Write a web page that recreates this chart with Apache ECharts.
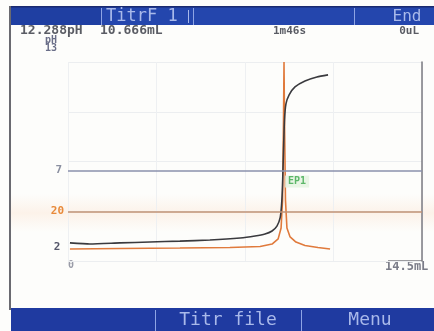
<!DOCTYPE html>
<html>
<head>
<meta charset="utf-8">
<style>
  html, body { margin: 0; padding: 0; background: #fdfdfb; }
  #chart { width: 434px; height: 331px; }
</style>
<script src="https://cdn.jsdelivr.net/npm/echarts@6/dist/echarts.min.js"></script>
</head>
<body>
<div id="chart"></div>
<script>
// Titration curve: volume (mL) vs pH, plus its first derivative (dpH/dV)
const volume = [0.08, 0.90, 2.13, 3.36, 4.59, 5.82, 7.06, 7.67, 8.08, 8.37, 8.57, 8.70, 8.76, 8.80, 8.84, 8.88, 8.94, 9.07, 9.31, 9.72, 10.21, 10.666];
const pH     = [3.00, 2.94, 3.00, 3.05, 3.10, 3.16, 3.27, 3.38, 3.49, 3.66, 3.93, 4.38, 5.10, 6.20, 8.14, 9.79, 10.68, 11.18, 11.62, 11.95, 12.17, 12.288];

const derivVolume = [0.08, 2.13, 4.59, 6.64, 7.88, 8.37, 8.62, 8.74, 8.80, 8.84, 8.86, 8.88, 8.92, 8.98, 9.11, 9.35, 9.72, 10.25, 10.75];
const dpHdV       = [1.0, 1.3, 1.5, 1.8, 2.3, 3.5, 6.1, 11.6, 25.6, 65.9, 95.0, 65.9, 25.6, 11.6, 7.1, 4.5, 2.8, 1.8, 1.0];

// Reference levels, endpoint and axis ranges
const pHLevel = 7;            // neutral pH line
const derivLevel = 20;        // derivative threshold
const endpoint = { volume: 8.86, label: 'EP1' };
const volumeMax = 14.52;
const pHMin = 2, pHMax = 13;
const derivMin = -5, derivMax = 95;

// Status line read-outs
const statusPH = '12.288pH';
const statusVol = '10.666mL';
const statusTime = '1m46s';
const statusDose = '0uL';

const chart = echarts.init(document.getElementById('chart'));
const mono = '"DejaVu Sans Mono", monospace';
const BLUE = '#2446ad';
const BAR_TEXT = '#a9b9ea';
const STATUS = '#5a5c64';

chart.setOption({
  animation: false,
  backgroundColor: '#fdfdfb',
  grid: { left: 68, right: 12, top: 62, bottom: 70 },
  xAxis: {
    type: 'value', min: 0, max: volumeMax, interval: volumeMax / 4,
    axisLine: { show: false }, axisTick: { show: false }, axisLabel: { show: false },
    splitLine: { show: true, lineStyle: { color: '#eef0f2', width: 1 } }
  },
  yAxis: [
    { // pH
      type: 'value', min: pHMin, max: pHMax, interval: (pHMax - pHMin) / 4, position: 'right',
      axisLine: { show: true, onZero: false, lineStyle: { color: '#7a7a80', width: 1.5 } },
      axisTick: { show: false }, axisLabel: { show: false },
      splitLine: { show: true, lineStyle: { color: '#eceef0', width: 1 } }
    },
    { // derivative
      type: 'value', min: derivMin, max: derivMax, position: 'left',
      axisLine: { show: false }, axisTick: { show: false }, axisLabel: { show: false },
      splitLine: { show: false }
    }
  ],
  series: [
    {
      name: 'dpH/dV', type: 'line', yAxisIndex: 1, showSymbol: false,
      data: derivVolume.map((v, i) => [v, dpHdV[i]]),
      lineStyle: { color: '#e07a3c', width: 1.6 },
      z: 3,
      markLine: {
        silent: true, symbol: 'none',
        lineStyle: { color: '#c09274', width: 1.6, type: 'solid' },
        label: { position: 'start', formatter: String(derivLevel), color: '#e88a3a',
                 fontFamily: mono, fontSize: 11, fontWeight: 'bold', distance: 4 },
        data: [{ yAxis: derivLevel }]
      }
    },
    {
      name: 'pH', type: 'line', yAxisIndex: 0, showSymbol: false, smooth: 0.2,
      data: volume.map((v, i) => [v, pH[i]]),
      lineStyle: { color: '#3a3a3e', width: 1.6 },
      z: 4,
      markLine: {
        silent: true, symbol: 'none',
        lineStyle: { color: '#8a90ad', width: 1.6, type: 'solid' },
        label: { position: 'start', formatter: String(pHLevel), color: '#8a8fa0',
                 fontFamily: mono, fontSize: 11, fontWeight: 'bold', distance: 6 },
        data: [{ yAxis: pHLevel }]
      }
    },
    {
      name: 'EP', type: 'scatter', yAxisIndex: 0, symbolSize: 0,
      data: [[endpoint.volume, pHLevel]],
      label: { show: true, position: 'right', offset: [-4, 11], formatter: endpoint.label,
               color: '#3aa84a', fontFamily: mono, fontSize: 10, fontWeight: 'bold',
               backgroundColor: '#e4f3e0', padding: [1, 3] },
      z: 5
    }
  ],
  graphic: [
    // faint warm tint around the threshold line
    { type: 'rect', z: -1, shape: { x: 11, y: 194, width: 423, height: 38 },
      style: { fill: new echarts.graphic.LinearGradient(0, 0, 0, 1, [
        { offset: 0, color: 'rgba(250,225,205,0)' },
        { offset: 0.5, color: 'rgba(250,222,200,0.35)' },
        { offset: 1, color: 'rgba(250,225,205,0)' }]) } },
    // left frame
    { type: 'rect', shape: { x: 9, y: 6, width: 2, height: 304 }, style: { fill: '#6a6a70' } },
    // top title bar
    { type: 'rect', shape: { x: 11, y: 7, width: 423, height: 18 }, style: { fill: BLUE } },
    { type: 'rect', shape: { x: 11, y: 7, width: 90, height: 18 }, style: { fill: '#1f3fa2' } },
    { type: 'rect', shape: { x: 11, y: 6, width: 423, height: 1.5 }, style: { fill: '#1a2a70' } },
    { type: 'line', shape: { x1: 101.5, y1: 8, x2: 101.5, y2: 25 }, style: { stroke: '#8ea4e4', lineWidth: 1 } },
    { type: 'line', shape: { x1: 193.5, y1: 8, x2: 193.5, y2: 25 }, style: { stroke: '#8ea4e4', lineWidth: 1 } },
    { type: 'line', shape: { x1: 354.5, y1: 8, x2: 354.5, y2: 25 }, style: { stroke: '#8ea4e4', lineWidth: 1 } },
    { type: 'text', style: { x: 106, y: 17, text: 'TitrF 1', fill: BAR_TEXT, font: '17px ' + mono, textVerticalAlign: 'middle' } },
    { type: 'line', shape: { x1: 188.5, y1: 10, x2: 188.5, y2: 23 }, style: { stroke: BAR_TEXT, lineWidth: 1 } },
    { type: 'text', style: { x: 407, y: 17, text: 'End', fill: BAR_TEXT, font: '16px ' + mono, textAlign: 'center', textVerticalAlign: 'middle' } },
    // status line
    { type: 'text', style: { x: 20, y: 31, text: statusPH, fill: STATUS, font: 'bold 13px ' + mono, textVerticalAlign: 'middle' } },
    { type: 'text', style: { x: 100, y: 31, text: statusVol, fill: STATUS, font: 'bold 13px ' + mono, textVerticalAlign: 'middle' } },
    { type: 'text', style: { x: 273, y: 31, text: statusTime, fill: STATUS, font: 'bold 11px ' + mono, textVerticalAlign: 'middle' } },
    { type: 'text', style: { x: 419, y: 31, text: statusDose, fill: STATUS, font: 'bold 11px ' + mono, textAlign: 'right', textVerticalAlign: 'middle' } },
    // axis captions
    { type: 'text', style: { x: 51, y: 40, text: 'pH', fill: '#6a6e88', font: 'bold 10px ' + mono, textAlign: 'center', textVerticalAlign: 'middle' } },
    { type: 'text', style: { x: 51, y: 48, text: String(pHMax), fill: '#6a6e88', font: 'bold 10px ' + mono, textAlign: 'center', textVerticalAlign: 'middle' } },
    { type: 'text', style: { x: 57, y: 247, text: String(pHMin), fill: '#55576a', font: 'bold 11px ' + mono, textAlign: 'center', textVerticalAlign: 'middle' } },
    { type: 'text', style: { x: 71, y: 265, text: '0', fill: '#9a9ca8', font: 'bold 10px ' + mono, textAlign: 'center', textVerticalAlign: 'middle' } },
    { type: 'text', style: { x: 385, y: 267, text: '14.5mL', fill: '#7a7c88', font: 'bold 12px ' + mono, textVerticalAlign: 'middle' } },
    { type: 'line', shape: { x1: 388, y1: 261, x2: 422, y2: 261 }, style: { stroke: '#7a7a80', lineWidth: 1.5 } },
    // bottom soft-key bar
    { type: 'rect', shape: { x: 11, y: 308, width: 423, height: 23 }, style: { fill: '#1f3aa0' } },
    { type: 'line', shape: { x1: 155.5, y1: 310, x2: 155.5, y2: 331 }, style: { stroke: '#8ea4e4', lineWidth: 1 } },
    { type: 'line', shape: { x1: 301.5, y1: 310, x2: 301.5, y2: 331 }, style: { stroke: '#8ea4e4', lineWidth: 1 } },
    { type: 'text', style: { x: 228, y: 320, text: 'Titr file', fill: BAR_TEXT, font: '18px ' + mono, textAlign: 'center', textVerticalAlign: 'middle' } },
    { type: 'text', style: { x: 370, y: 320, text: 'Menu', fill: BAR_TEXT, font: '18px ' + mono, textAlign: 'center', textVerticalAlign: 'middle' } }
  ]
});
</script>
</body>
</html>
